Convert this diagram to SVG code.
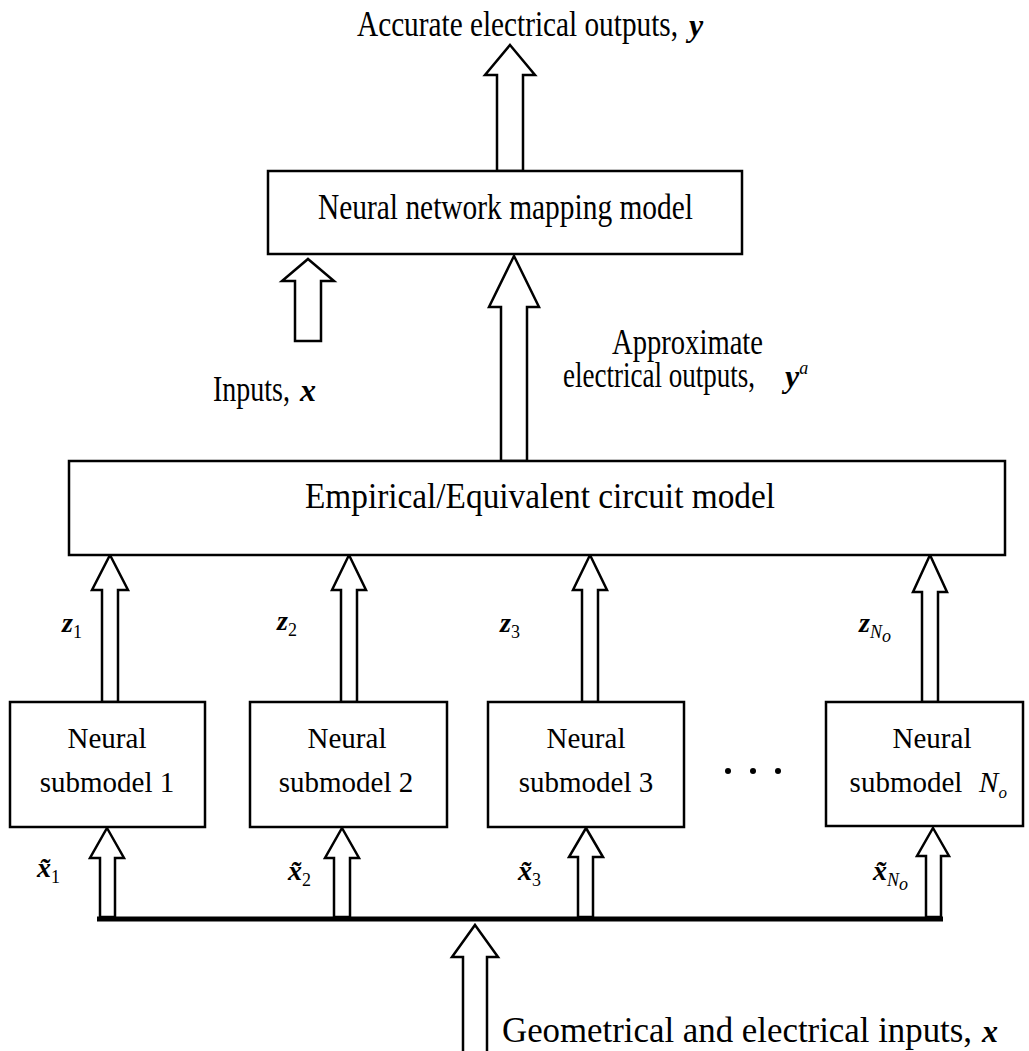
<svg xmlns="http://www.w3.org/2000/svg" width="1029" height="1051" viewBox="0 0 1029 1051">
<style>
.box{fill:#fff;stroke:#000;stroke-width:2.5}
.arr{fill:#fff;stroke:#000;stroke-width:2.5;stroke-linejoin:miter}
.t{font-family:"Liberation Serif","Times New Roman",serif;font-size:36px;fill:#000}
.s{font-family:"Liberation Serif","Times New Roman",serif;font-size:29px;fill:#000;text-anchor:middle}
.v{font-family:"Liberation Serif","Times New Roman",serif;font-weight:bold;font-style:italic;fill:#000}
.sub{font-weight:normal;font-style:normal;font-size:18px}
.isub{font-weight:normal;font-style:italic;font-size:18px}
</style>
<rect width="1029" height="1051" fill="#fff"/>
<g id="connectors">
<path class="arr" d="M510,45 L535,75 L523,75 L523,171 L497,171 L497,75 L485,75 Z"/>
<path class="arr" d="M308,259 L334,281 L321,281 L321,341 L295,341 L295,281 L282,281 Z"/>
<path class="arr" d="M514,256 L539,307 L527,307 L527,461 L501,461 L501,307 L489,307 Z"/>
<path class="arr" d="M110,555 L128,590 L118,590 L118,702 L102,702 L102,590 L92,590 Z"/>
<path class="arr" d="M349,555 L366,590 L357,590 L357,702 L341,702 L341,590 L332,590 Z"/>
<path class="arr" d="M590,555 L607,590 L598,590 L598,702 L582,702 L582,590 L573,590 Z"/>
<path class="arr" d="M930,555 L947,592 L938,592 L938,702 L922,702 L922,592 L913,592 Z"/>
<path class="arr" d="M107,828 L124,858 L115,858 L115,917 L100,917 L100,858 L90,858 Z"/>
<path class="arr" d="M342,828 L359,858 L350,858 L350,917 L334,917 L334,858 L325,858 Z"/>
<path class="arr" d="M586,828 L603,857 L593,857 L593,917 L578,917 L578,857 L569,857 Z"/>
<path class="arr" d="M933,828 L949,856 L941,856 L941,917 L926,917 L926,856 L917,856 Z"/>
<line x1="97" y1="919" x2="943" y2="919" stroke="#000" stroke-width="5"/>
<path class="arr" d="M475,925 L498,957 L487,957 L487,1055 L463,1055 L463,957 L452,957 Z"/>
</g>
<g id="mapping">
<rect class="box" x="268" y="171" width="474" height="83"/>
<text class="t" x="318" y="219" textLength="375" lengthAdjust="spacingAndGlyphs">Neural network mapping model</text>
</g>
<g id="empirical">
<rect class="box" x="69" y="461" width="936" height="94"/>
<text class="t" x="305" y="508" textLength="470" lengthAdjust="spacingAndGlyphs">Empirical/Equivalent circuit model</text>
</g>
<g id="sub1">
<rect class="box" x="10" y="702" width="195" height="125"/>
<text class="s" x="107" y="748">Neural</text>
<text class="s" x="107" y="792">submodel 1</text>
</g>
<g id="sub2">
<rect class="box" x="250" y="702" width="197" height="125"/>
<text class="s" x="347" y="748">Neural</text>
<text class="s" x="346" y="792">submodel 2</text>
</g>
<g id="sub3">
<rect class="box" x="488" y="702" width="196" height="125"/>
<text class="s" x="586" y="748">Neural</text>
<text class="s" x="586" y="792">submodel 3</text>
</g>
<g id="subN">
<rect class="box" x="826" y="702" width="197" height="124"/>
<text class="s" x="932" y="748">Neural</text>
<text class="s" x="906" y="792">submodel</text>
<text class="s" x="993" y="792" font-style="italic">N<tspan font-size="17" dy="6">o</tspan></text>
</g>
<g id="dots">
<circle cx="728" cy="771" r="3"/>
<circle cx="753" cy="771" r="3"/>
<circle cx="778" cy="771" r="3"/>
</g>
<g id="labels">
<text class="t" x="357" y="36" textLength="321" lengthAdjust="spacingAndGlyphs">Accurate electrical outputs,</text>
<text class="v" x="689" y="36" font-size="32">y</text>
<text class="t" x="213" y="401" textLength="77" lengthAdjust="spacingAndGlyphs">Inputs,</text>
<text class="v" x="300" y="401" font-size="32">x</text>
<text class="t" x="612" y="354" font-size="33" textLength="151" lengthAdjust="spacingAndGlyphs">Approximate</text>
<text class="t" x="563" y="387" font-size="33" textLength="192" lengthAdjust="spacingAndGlyphs">electrical outputs,</text>
<text class="v" x="785" y="387" font-size="32">y<tspan class="isub" dy="-13" font-size="16">a</tspan></text>
<text class="t" x="502" y="1042" textLength="470" lengthAdjust="spacingAndGlyphs">Geometrical and electrical inputs,</text>
<text class="v" x="982" y="1042" font-size="32">x</text>
<text class="v" x="62" y="632" font-size="28">z<tspan class="sub" dy="6">1</tspan></text>
<text class="v" x="277" y="630" font-size="28">z<tspan class="sub" dy="6">2</tspan></text>
<text class="v" x="500" y="632" font-size="28">z<tspan class="sub" dy="6">3</tspan></text>
<text class="v" x="859" y="632" font-size="28">z<tspan class="isub" dy="6">N</tspan><tspan class="isub" font-size="12" dy="4">o</tspan></text>
<text class="v" x="37" y="877" font-size="28">x&#x303;<tspan class="sub" dy="6">1</tspan></text>
<text class="v" x="288" y="880" font-size="28">x&#x303;<tspan class="sub" dy="6">2</tspan></text>
<text class="v" x="518" y="880" font-size="28">x&#x303;<tspan class="sub" dy="6">3</tspan></text>
<text class="v" x="873" y="880" font-size="28">x&#x303;<tspan class="isub" dy="6">N</tspan><tspan class="isub" font-size="12" dy="4">o</tspan></text>
</g>
</svg>
